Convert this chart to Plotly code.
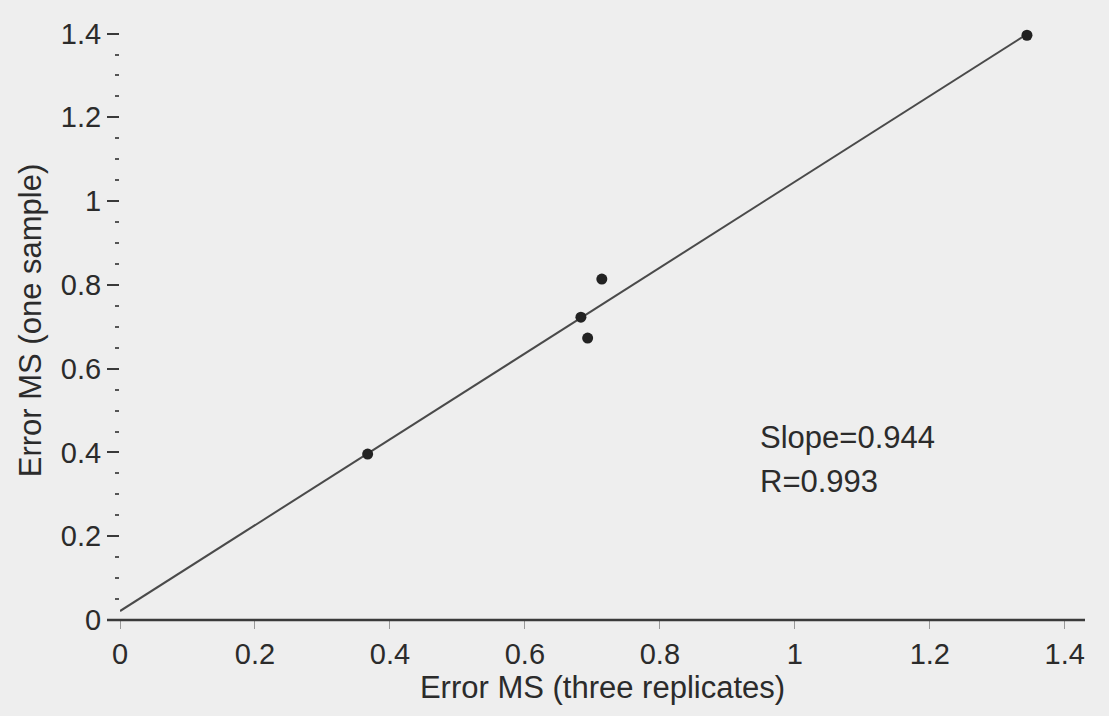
import numpy as np
import plotly.graph_objects as go

# Data
x_three_replicates = [0.367, 0.683, 0.693, 0.714, 1.344]
y_one_sample = [0.396, 0.723, 0.673, 0.814, 1.396]
x_tick_vals = [0, 0.2, 0.4, 0.6, 0.8, 1.0, 1.2, 1.4]
x_tick_text = ["0", "0.2", "0.4", "0.6", "0.8", "1", "1.2", "1.4"]
y_tick_vals = [0, 0.2, 0.4, 0.6, 0.8, 1.0, 1.2, 1.4]
y_tick_text = ["0", "0.2", "0.4", "0.6", "0.8", "1", "1.2", "1.4"]
stats_text = ["Slope=0.944", "R=0.993"]

# Least-squares line through the points
slope, intercept = np.polyfit(x_three_replicates, y_one_sample, 1)
line_x = [0.0, max(x_three_replicates)]
line_y = [intercept + slope * v for v in line_x]

ink = "#2b2b2b"
font_family = "Liberation Sans, Arial, Helvetica, sans-serif"

fig = go.Figure()
fig.add_trace(go.Scatter(
    x=line_x, y=line_y, mode="lines",
    line=dict(color="#4a4a4a", width=2), showlegend=False, hoverinfo="skip",
))
fig.add_trace(go.Scatter(
    x=x_three_replicates, y=y_one_sample, mode="markers",
    marker=dict(color="#222222", size=11), showlegend=False,
))

fig.add_annotation(
    x=0.945, y=0.435, xref="x", yref="y", text=stats_text[0],
    showarrow=False, xanchor="left", yanchor="middle",
    font=dict(size=31, color=ink, family=font_family),
)
fig.add_annotation(
    x=0.945, y=0.330, xref="x", yref="y", text=stats_text[1],
    showarrow=False, xanchor="left", yanchor="middle",
    font=dict(size=31, color=ink, family=font_family),
)

# Horizontal axis line (extends slightly left of x=0 as in the reference)
fig.add_shape(
    type="line", xref="paper", yref="paper",
    x0=-13 / 965, x1=1.0, y0=0, y1=0,
    line=dict(color="#3a3a3a", width=2.5),
)

fig.update_layout(
    width=1109, height=716,
    margin=dict(l=120, r=24, t=21, b=96),
    paper_bgcolor="#eeeeee", plot_bgcolor="#eeeeee",
    font=dict(family=font_family, color=ink, size=29),
    xaxis=dict(
        range=[0, 1.43], tickvals=x_tick_vals, ticktext=x_tick_text,
        showgrid=False, zeroline=False, showline=False,
        ticks="outside", ticklen=8, tickwidth=1, tickcolor="#999999",
        tickfont=dict(size=29, color=ink),
        title=dict(text="Error MS (three replicates)", font=dict(size=31, color=ink), standoff=4),
    ),
    yaxis=dict(
        range=[0, 1.43], tickvals=y_tick_vals, ticktext=y_tick_text,
        showgrid=False, zeroline=False, showline=False,
        ticks="outside", ticklen=12, tickwidth=2, tickcolor="#3a3a3a",
        minor=dict(dtick=0.05, tick0=0, ticks="outside", ticklen=4, tickwidth=2, tickcolor="#555555"),
        tickfont=dict(size=29, color=ink),
        title=dict(text="Error MS (one sample)", font=dict(size=31, color=ink), standoff=10),
    ),
)

fig.write_html("out.html")
